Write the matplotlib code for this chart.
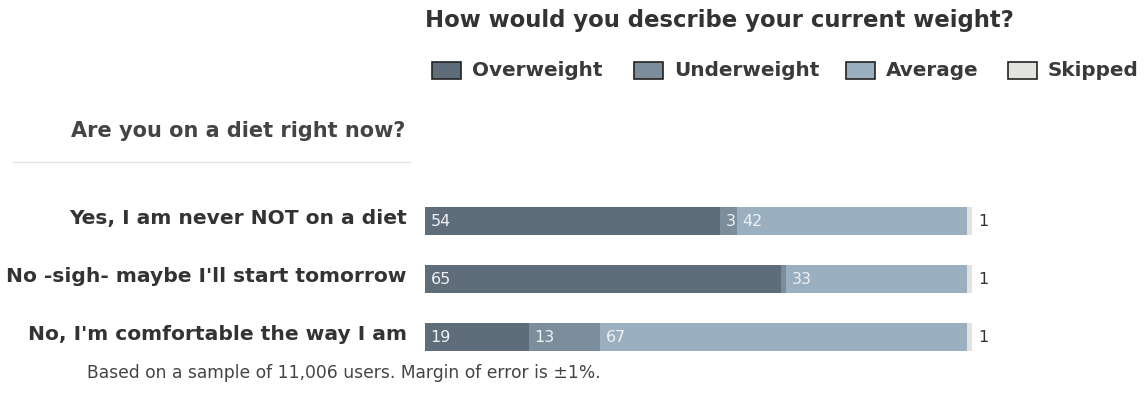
import matplotlib
matplotlib.use("Agg")
import matplotlib.pyplot as plt
from matplotlib.patches import Rectangle

plt.rcParams['font.family'] = ['DejaVu Sans']

categories = ["Yes, I am never NOT on a diet",
              "No -sigh- maybe I'll start tomorrow",
              "No, I'm comfortable the way I am"]
series = ["Overweight", "Underweight", "Average", "Skipped"]
overweight = [54, 65, 19]
underweight = [3, 1, 13]
average = [42, 33, 67]
skipped = [1, 1, 1]
colors = ["#5f6d7a", "#7c8d9b", "#9aafbf", "#e2e2de"]

W, H = 1145, 395
fig = plt.figure(figsize=(W / 100, H / 100), dpi=100)

def fx(px):
    return px / W

def fy(py):
    return 1 - py / H

# bars drawn in an axes whose y units are pixels from the top
x0, x1 = 425, 972
y_top, y_bot = 190, 365
ax = fig.add_axes([fx(x0), fy(y_bot), fx(x1 - x0), (y_bot - y_top) / H])
ax.set_xlim(0, 100)
ax.set_ylim(y_bot, y_top)
ax.axis('off')

values = [overweight, underweight, average, skipped]
row_y = [221 + i * 58 for i in range(len(categories))]
bar_h = 28

for i, cat in enumerate(categories):
    left = 0
    for j, vals in enumerate(values):
        v = vals[i]
        ax.barh(row_y[i], v, left=left, height=bar_h, color=colors[j], linewidth=0)
        if j < 3 and v >= 3:
            ax.text(left + 1.0, row_y[i], str(v), color="#eef1f4", fontsize=11.5,
                    va='center', ha='left')
        left += v
    ax.text(left + 1.1, row_y[i], str(skipped[i]), color="#333333", fontsize=11.5,
            va='center', ha='left')
    fig.text(fx(407), fy(row_y[i] - 2), cat, ha='right', va='center', fontsize=14.6,
             fontweight='bold', color="#333333")

# title
fig.text(fx(425), fy(20), "How would you describe your current weight?", ha='left', va='center',
         fontsize=16.4, fontweight='bold', color="#333333")

# legend
leg_sq = [432, 634, 846, 1008]
for k, name in enumerate(series):
    fig.patches.append(Rectangle((fx(leg_sq[k]), fy(79)), fx(29), 17 / H,
                                 transform=fig.transFigure, facecolor=colors[k],
                                 edgecolor="#222222", linewidth=1.2))
    fig.text(fx(leg_sq[k] + 40), fy(70), name, ha='left', va='center', fontsize=14.4,
             fontweight='bold', color="#3a3a3a")

# left question
fig.text(fx(405), fy(131), "Are you on a diet right now?", ha='right', va='center',
         fontsize=15, fontweight='bold', color="#444444")
fig.lines.append(plt.Line2D([fx(13), fx(410)], [fy(162), fy(162)], transform=fig.transFigure,
                            color="#e6e6e6", linewidth=1))

fig.text(fx(87), fy(373), "Based on a sample of 11,006 users. Margin of error is \u00b11%.",
         ha='left', va='center', fontsize=12.3, color="#444444")

fig.savefig("out.png", dpi=100, facecolor="white")
